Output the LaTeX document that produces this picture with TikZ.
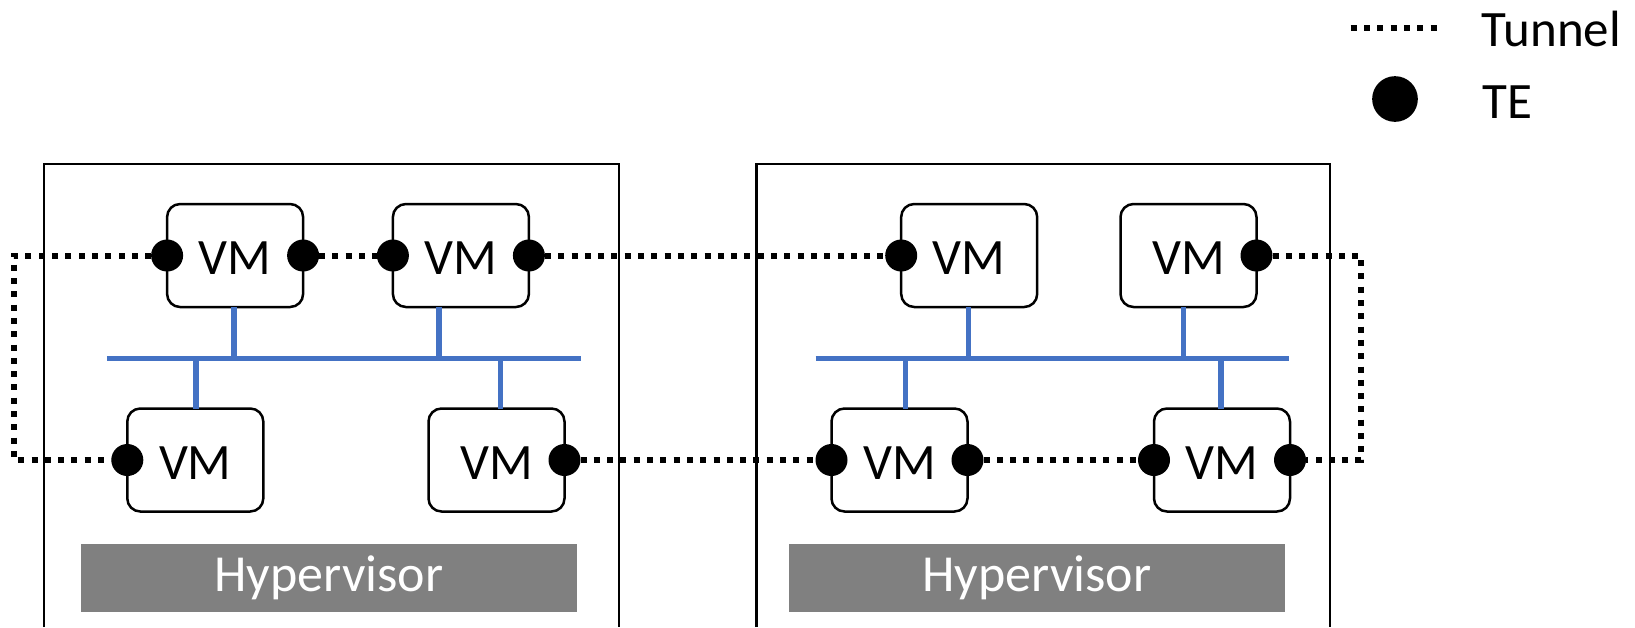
\documentclass[tikz,border=0pt]{standalone}
\usepackage{fontspec}
\setmainfont{Carlito}
\usetikzlibrary{calc}
\definecolor{busblue}{HTML}{4472C4}
\definecolor{hvgray}{HTML}{808080}
\begin{document}
\begin{tikzpicture}[x=1pt,y=-1pt,
 host/.style={line width=2.4pt},
 vm/.style={draw,line width=2.5pt,rounded corners=13pt,minimum width=136pt,minimum height=103pt,inner sep=0pt,outer sep=0pt,fill=white,text height=38pt,text depth=0pt,font=\fontsize{51}{60}\selectfont},
 te/.style={circle,fill=black,minimum size=32pt,inner sep=0pt,outer sep=0pt},
 tunnel/.style={line width=6pt,dash pattern=on 6pt off 7.3pt},
 bus/.style={busblue,line width=5.5pt},
 hv/.style={fill=hvgray,minimum width=496pt,minimum height=68pt,inner sep=0pt,text=white,font=\fontsize{52}{60}\selectfont},
 lbl/.style={inner sep=0pt,anchor=base west,font=\fontsize{51}{60}\selectfont}]
\useasboundingbox (0,0) rectangle (1635,627);

% hosts
\draw[host] (44.1,627) -- (44.1,164) -- (619.2,164) -- (619.2,627);
\draw[host] (756.3,627) -- (756.3,164) -- (1330.2,164) -- (1330.2,627);

% buses
\coordinate (b1w) at (106.9,358.3); \coordinate (b1e) at (580.8,358.3);
\coordinate (b2w) at (815.5,358.3); \coordinate (b2e) at (1289.4,358.3);
\draw[bus] (b1w) -- (b1e);
\draw[bus] (b2w) -- (b2e);

% VMs
\node[vm] (vm1) at (235.1,255.5) {VM};
\node[vm] (vm2) at (460.9,255.5) {VM};
\node[vm] (vm3) at (195.3,460) {VM};
\node[vm] (vm4) at (496.5,460) {VM};
\node[vm] (vm5) at (969.2,255.5) {VM};
\node[vm] (vm6) at (1188.5,255.5) {VM};
\node[vm] (vm7) at (899.5,460) {VM};
\node[vm] (vm8) at (1222,460) {VM};

% bus drops
\draw[bus] ($(vm1.south)+(-1.2,0)$) coordinate (s1) -- (s1 |- b1w);
\draw[bus] ($(vm2.south)+(-22.1,0)$) coordinate (s2) -- (s2 |- b1w);
\draw[bus] ($(vm3.north)+(0.6,0)$) coordinate (s3) -- (s3 |- b1w);
\draw[bus] ($(vm4.north)+(3.9,0)$) coordinate (s4) -- (s4 |- b1w);
\draw[bus] ($(vm5.south)+(-0.6,0)$) coordinate (s5) -- (s5 |- b2w);
\draw[bus] ($(vm6.south)+(-4.8,0)$) coordinate (s6) -- (s6 |- b2w);
\draw[bus] ($(vm7.north)+(5.8,0)$) coordinate (s7) -- (s7 |- b2w);
\draw[bus] ($(vm8.north)+(-1.2,0)$) coordinate (s8) -- (s8 |- b2w);

% TEs
\node[te] (d1w) at (vm1.west) {};
\node[te] (d1e) at (vm1.east) {};
\node[te] (d2w) at (vm2.west) {};
\node[te] (d2e) at (vm2.east) {};
\node[te] (d3w) at (vm3.west) {};
\node[te] (d4e) at (vm4.east) {};
\node[te] (d5w) at (vm5.west) {};
\node[te] (d6e) at (vm6.east) {};
\node[te] (d7w) at (vm7.west) {};
\node[te] (d7e) at (vm7.east) {};
\node[te] (d8w) at (vm8.west) {};
\node[te] (d8e) at (vm8.east) {};

% tunnels
\coordinate (lt) at (14,255.5); \coordinate (lb) at (14,460);
\coordinate (rt) at (1361,255.5); \coordinate (rb) at (1361,460);
\draw[tunnel] (d1w) -- (lt) -- (lb) -- (d3w);
\draw[tunnel] (d1e) -- (d2w);
\draw[tunnel] (d2e) -- (d5w);
\draw[tunnel] (d6e) -- (rt) -- (rb) -- (d8e);
\draw[tunnel] (d4e) -- (d7w);
\draw[tunnel] (d7e) -- (d8w);

% hypervisors
\node[hv] (hv1) at (328.95,578) {Hypervisor};
\node[hv] (hv2) at (1036.95,578) {Hypervisor};

% legend
\coordinate (lg1) at (1350.7,27.7); \coordinate (lg2) at (1437.3,27.7);
\draw[tunnel] (lg1) -- (lg2);
\node[lbl] (tl) at (1481.7,46.7) {Tunnel};
\node[te,minimum size=45.7pt] (lgdot) at (1395,99) {};
\node[lbl] (tel) at (1482.7,118.3) {TE};
\end{tikzpicture}
\end{document}
